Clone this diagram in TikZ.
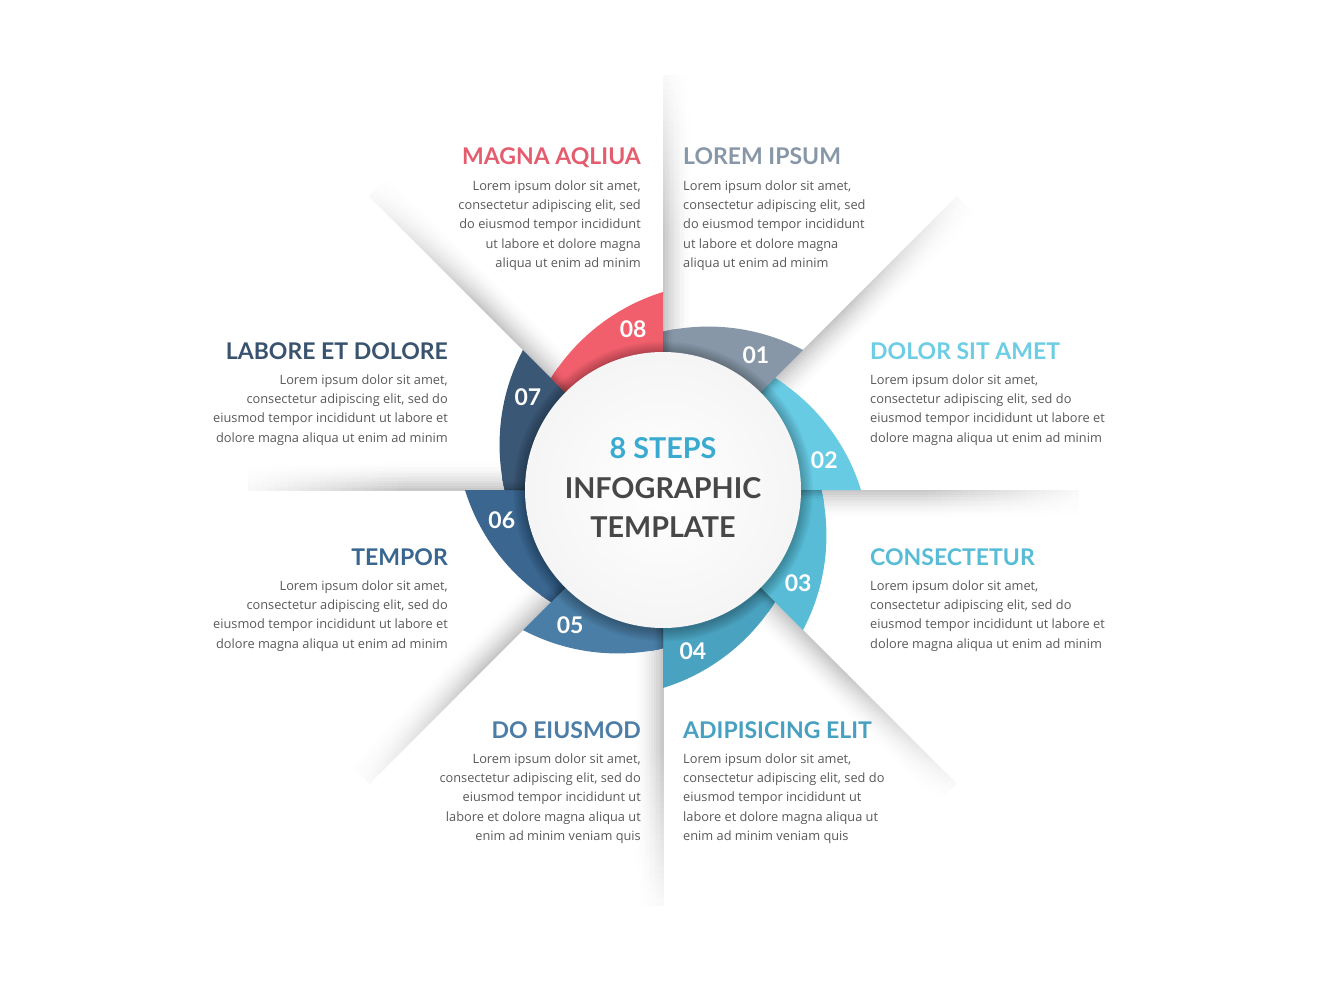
\documentclass[tikz,border=0pt]{standalone}
\usepackage{fontspec}
\setmainfont{Open Sans}
\newfontfamily\lato{Lato}
\definecolor{c1}{HTML}{8797A8}
\definecolor{c2}{HTML}{67CBE4}
\definecolor{c3}{HTML}{58BCD6}
\definecolor{c4}{HTML}{49A2C0}
\definecolor{c5}{HTML}{4A7EA6}
\definecolor{c6}{HTML}{3A6690}
\definecolor{c7}{HTML}{3A5775}
\definecolor{c8}{HTML}{F05F6B}
\definecolor{t1}{HTML}{8797A8}
\definecolor{t2}{HTML}{6CCDE4}
\definecolor{t3}{HTML}{57BCD6}
\definecolor{t4}{HTML}{47A0C0}
\definecolor{t5}{HTML}{4B7DA6}
\definecolor{t6}{HTML}{386690}
\definecolor{t7}{HTML}{39536F}
\definecolor{t8}{HTML}{E45D6E}
\definecolor{bodygray}{HTML}{595959}
\definecolor{stepcyan}{HTML}{3AAAD0}
\definecolor{darktxt}{HTML}{474747}
\tikzset{
  ttl/.style={font=\lato\bfseries\fontsize{23}{28}\selectfont, inner sep=0pt},
  bodytxt/.style={font=\fontsize{12.8}{19}\selectfont, text=bodygray, inner sep=0pt},
  numtxt/.style={font=\lato\bfseries\fontsize{23}{27}\selectfont, text=white, inner sep=0pt},
  centertxt/.style={font=\lato\bfseries\fontsize{28.7}{34}\selectfont, inner sep=0pt, anchor=base},
}
\newcommand\infoblock[7]{%
  \node[ttl, anchor=base #2, text=#5] (#1t) at (#3,#4) {#6};
  \foreach \lineTxt [count=\ii] in {#7} {
    \node[bodytxt, anchor=base #2] (#1b\ii) at (#3,{#4-25.5-19.2*(\ii-1)}) {\lineTxt};
  }%
}
\begin{document}
\begin{tikzpicture}[x=1pt,y=1pt]
\useasboundingbox (-663,-490) rectangle (661,490);
\fill[white] (-663,-490) rectangle (661,490);

% radial paper-fold shadows
\foreach \th in {90,45,0,-45,-90,-135,180,135}{
  \begin{scope}[rotate=\th]
  \foreach \j in {0,...,11}{
    \foreach \i in {0,...,24}{
      \pgfmathsetmacro\ra{\i==0 ? 138 : 260+(\i-1)*6.46}
      \pgfmathsetmacro\rb{\i==0 ? 260 : 260+\i*6.46}
      \pgfmathsetmacro\pa{23*(1-(\j+0.5)/12)^1.7*(\i==0 ? 1 : 1-(\i-0.5)*0.037)}
      \fill[black!\pa, draw=black!\pa, line width=0.3pt]
        (\ra,-2.5*\j) -- (\rb,-2.5*\j) -- (\rb,-2.5*\j-2.5) -- (\ra,-2.5*\j-2.5) -- cycle;
    }
  }
  \end{scope}
}

% segments
\foreach \k in {1,...,8}{
  \pgfmathsetmacro\s{90-45*(\k-1)}
  \pgfmathsetmacro\e{\s-45}
  \pgfmathsetmacro\oa{\s-131}
  \begin{scope}
    \clip (0,0) -- (\s:300) -- ({\s-22.5}:330) -- (\e:300) -- cycle;
    \clip (\oa:60) circle (202.8);
    \fill[c\k] (0,0) circle (300);
    \begin{scope}[rotate=\s]
      \foreach \j in {0,...,7}{
        \pgfmathsetmacro\q{100-30*(1-(\j+0.5)/8)^2}
        \fill[c\k!\q!black, draw=c\k!\q!black, line width=0.3pt]
          (0,-1.6*\j) -- (260,-1.6*\j) -- (260,-1.6*\j-1.6) -- (0,-1.6*\j-1.6) -- cycle;
      }
    \end{scope}
  \end{scope}
}

% central circle with shadow
\foreach \m in {1,...,10}{
  \fill[black, opacity=0.028] (0,-1.5) circle ({138+1.2*\m});
}
\shade[inner color=white, outer color=black!4] (0,0) circle (138);

% numbers
\foreach \k in {1,...,8}{
  \node[numtxt] (n\k) at ({100.5-45*\k}:164) {0\k};
}

% centre text
\node[centertxt, text=stepcyan] (ct1) at (0,32) {8 STEPS};
\node[centertxt, text=darktxt] (ct2) at (0,-8) {INFOGRAPHIC};
\node[centertxt, text=darktxt] (ct3) at (0,-47.5) {TEMPLATE};

% text blocks
\infoblock{b8}{east}{-22}{325}{t8}{MAGNA AQLIUA}{{Lorem ipsum dolor sit amet,},{consectetur adipiscing elit, sed},{do eiusmod tempor incididunt},{ut labore et dolore magna},{aliqua ut enim ad minim}}
\infoblock{b1}{west}{20}{325}{t1}{LOREM IPSUM}{{Lorem ipsum dolor sit amet,},{consectetur adipiscing elit, sed},{do eiusmod tempor incididunt},{ut labore et dolore magna},{aliqua ut enim ad minim}}
\infoblock{b2}{west}{207}{131}{t2}{DOLOR SIT AMET}{{Lorem ipsum dolor sit amet,},{consectetur adipiscing elit, sed do},{eiusmod tempor incididunt ut labore et},{dolore magna aliqua ut enim ad minim}}
\infoblock{b7}{east}{-215}{131}{t7}{LABORE ET DOLORE}{{Lorem ipsum dolor sit amet,},{consectetur adipiscing elit, sed do},{eiusmod tempor incididunt ut labore et},{dolore magna aliqua ut enim ad minim}}
\infoblock{b3}{west}{207}{-75}{t3}{CONSECTETUR}{{Lorem ipsum dolor sit amet,},{consectetur adipiscing elit, sed do},{eiusmod tempor incididunt ut labore et},{dolore magna aliqua ut enim ad minim}}
\infoblock{b6}{east}{-215}{-75}{t6}{TEMPOR}{{Lorem ipsum dolor sit amet,},{consectetur adipiscing elit, sed do},{eiusmod tempor incididunt ut labore et},{dolore magna aliqua ut enim ad minim}}
\infoblock{b4}{west}{20}{-248}{t4}{ADIPISICING ELIT}{{Lorem ipsum dolor sit amet,},{consectetur adipiscing elit, sed do},{eiusmod tempor incididunt ut},{labore et dolore magna aliqua ut},{enim ad minim veniam quis}}
\infoblock{b5}{east}{-22}{-248}{t5}{DO EIUSMOD}{{Lorem ipsum dolor sit amet,},{consectetur adipiscing elit, sed do},{eiusmod tempor incididunt ut},{labore et dolore magna aliqua ut},{enim ad minim veniam quis}}
\end{tikzpicture}
\end{document}
